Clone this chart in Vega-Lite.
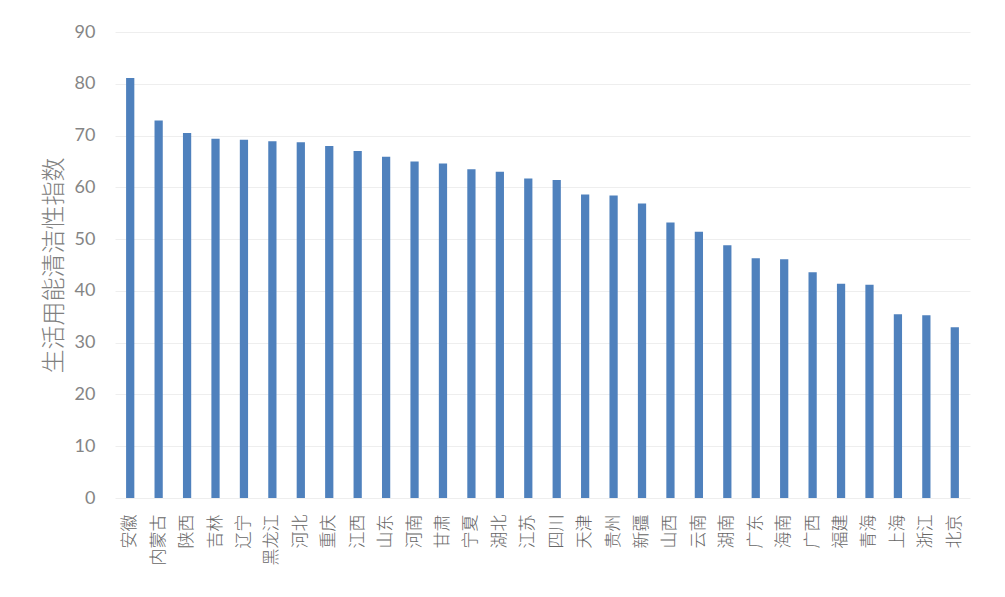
{
  "$schema": "https://vega.github.io/schema/vega-lite/v6.json",
  "autosize": "none",
  "width": 855,
  "height": 466,
  "padding": {"left": 115, "top": 32, "right": 35, "bottom": 99},
  "background": "white",
  "data": {
    "values": [
      {"province": "安徽", "value": 81.1},
      {"province": "内蒙古", "value": 72.9},
      {"province": "陕西", "value": 70.5},
      {"province": "吉林", "value": 69.4},
      {"province": "辽宁", "value": 69.2},
      {"province": "黑龙江", "value": 68.9},
      {"province": "河北", "value": 68.7},
      {"province": "重庆", "value": 68.0},
      {"province": "江西", "value": 67.0},
      {"province": "山东", "value": 65.9},
      {"province": "河南", "value": 65.0},
      {"province": "甘肃", "value": 64.6},
      {"province": "宁夏", "value": 63.5},
      {"province": "湖北", "value": 63.0},
      {"province": "江苏", "value": 61.7},
      {"province": "四川", "value": 61.4},
      {"province": "天津", "value": 58.6},
      {"province": "贵州", "value": 58.4},
      {"province": "新疆", "value": 56.9},
      {"province": "山西", "value": 53.2},
      {"province": "云南", "value": 51.4},
      {"province": "湖南", "value": 48.8},
      {"province": "广东", "value": 46.3},
      {"province": "海南", "value": 46.1},
      {"province": "广西", "value": 43.6},
      {"province": "福建", "value": 41.4},
      {"province": "青海", "value": 41.2},
      {"province": "上海", "value": 35.5},
      {"province": "浙江", "value": 35.3},
      {"province": "北京", "value": 33.0}
    ]
  },
  "mark": {"type": "bar", "color": "#4f81bd"},
  "encoding": {
    "x": {
      "field": "province",
      "type": "nominal",
      "sort": null,
      "scale": {"paddingInner": 0.71, "paddingOuter": 0.39},
      "axis": {
        "title": null,
        "labelAngle": -90,
        "labelFont": "Noto Sans CJK SC",
        "labelFontSize": 17,
        "labelFontWeight": 300,
        "labelColor": "#666666",
        "labelPadding": 16,
        "ticks": false,
        "domain": false,
        "grid": false
      }
    },
    "y": {
      "field": "value",
      "type": "quantitative",
      "scale": {"domain": [0, 90], "nice": false},
      "axis": {
        "title": "生活用能清洁性指数",
        "titleFont": "Noto Sans CJK SC",
        "titleFontSize": 24,
        "titleFontWeight": 300,
        "titleColor": "#808080",
        "titlePadding": 8,
        "values": [0, 10, 20, 30, 40, 50, 60, 70, 80, 90],
        "labelFont": "Lato",
        "labelFontSize": 18,
        "labelColor": "#858585",
        "labelPadding": 20,
        "ticks": false,
        "domain": false,
        "grid": true,
        "gridColor": "#eeeeee",
        "gridWidth": 1
      }
    }
  },
  "config": {
    "view": {"stroke": null}
  }
}
